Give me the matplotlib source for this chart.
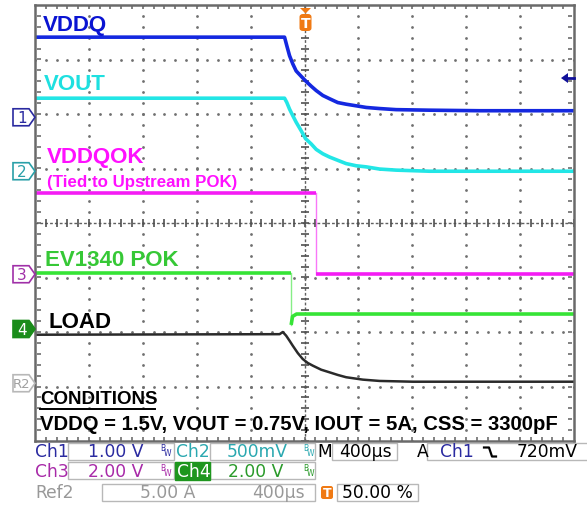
import numpy as np
import matplotlib.pyplot as plt
from matplotlib.patches import Polygon, Rectangle, FancyBboxPatch
from matplotlib.lines import Line2D

W, H = 587, 510

# time base: microseconds, 400 us/div, trigger at the centre
t_vddq = [-2000, -148, -131, -111, -87, -62, -24, 7, 50, 87, 136, 186, 247, 309, 384, 458, 557, 680, 928, 1299, 2000]
vddq = [1.47, 1.47, 1.31, 1.13, 0.98, 0.85, 0.75, 0.67, 0.57, 0.49, 0.40, 0.34, 0.27, 0.24, 0.21, 0.18, 0.16, 0.14, 0.13, 0.12, 0.12]

t_vout = [-2000, -148, -131, -111, -87, -62, -24, 7, 50, 87, 136, 186, 247, 309, 384, 458, 557, 680, 928, 1299, 2000]
vout = [0.67, 0.67, 0.63, 0.57, 0.51, 0.45, 0.37, 0.30, 0.25, 0.20, 0.16, 0.13, 0.10, 0.07, 0.05, 0.04, 0.02, 0.01, 0.0, 0.0, 0.0]

t_vddqok = [-2000, 85, 85, 2000]
vddqok = [2.98, 2.98, 0.0, 0.0]

t_pok = [-2000, -99, -99, -89, -59, 2000]
pok = [2.06, 2.06, 0.15, 0.46, 0.55, 0.55]

t_load = [-2000, -185, -161, -136, -111, -87, -50, -13, 24, 62, 124, 186, 247, 309, 433, 557, 804, 2000]
load = [4.45, 4.50, 4.70, 4.36, 3.90, 3.44, 2.77, 2.22, 1.86, 1.61, 1.24, 1.00, 0.76, 0.55, 0.33, 0.21, 0.14, 0.14]

trig_level = 0.72  # V on Ch1

# channel: (volts per div, ground offset in div)
ch1 = (1.0, 1.94)
ch2 = (0.5, 0.95)
ch3 = (2.0, -0.94)
ch4 = (2.0, -1.945)
ref2 = (5.0, -2.94)


def fx(x):
    return x / W


def fy(y):
    return 1 - y / H


fig = plt.figure(figsize=(W / 100, H / 100), dpi=100)
ax = fig.add_axes([fx(35), fy(442), (574 - 35) / W, (442 - 6) / H])
ax.set_xlim(-2000, 2000)
ax.set_ylim(-4, 4)
ax.set_xticks([])
ax.set_yticks([])
for s in ax.spines.values():
    s.set_color('#6a6a6a')
    s.set_linewidth(1.8)

# scope graticule
gx = np.arange(-2000, 2001, 80)
gy = np.arange(-4, 4.01, 0.2)
for yl in [-3, -2, -1, 1, 2, 3]:
    ax.scatter(gx, np.full(len(gx), yl), s=4, color='#707070', linewidths=0, zorder=1)
for xl in [-1600, -1200, -800, -400, 400, 800, 1200, 1600]:
    ax.scatter(np.full(len(gy), xl), gy, s=4, color='#707070', linewidths=0, zorder=1)
ax.plot([-2000, 2000], [0, 0], color='#606060', lw=1.0, ls=(0, (2, 1.5)), zorder=1)
ax.plot(gx, np.zeros(len(gx)), ls='none', marker='|', ms=6, mew=1.2, color='#505050', zorder=1)
ax.plot([0, 0], [-4, 4], color='#606060', lw=1.0, ls=(0, (2, 1.5)), zorder=1)
ax.plot(np.zeros(len(gy)), gy, ls='none', marker='_', ms=6, mew=1.2, color='#505050', zorder=1)
# minor tick combs just inside the frame
for yl in [-3.955, 3.955]:
    ax.plot(gx[1:-1], np.full(len(gx) - 2, yl), ls='none', marker='|', ms=3.5, mew=1.1,
            color='#606060', zorder=1, clip_on=False)
for xl in [-1970, 1970]:
    ax.plot(np.full(len(gy) - 2, xl), gy[1:-1], ls='none', marker='_', ms=3.5, mew=1.1,
            color='#606060', zorder=1, clip_on=False)


def trace(t, v, ch, color, lw, edge=None):
    scale, off = ch
    y = np.array(v) / scale + off
    if edge is None:
        ax.plot(t, y, color=color, lw=lw, solid_joinstyle='round')
    else:
        # thick settled parts, thin fast edge
        ax.plot(t[:edge + 1], y[:edge + 1], color=color, lw=lw, solid_capstyle='butt')
        ax.plot(t[edge:edge + 2], y[edge:edge + 2], color=color, lw=1.0, alpha=0.6)
        ax.plot(t[edge + 1:], y[edge + 1:], color=color, lw=lw, solid_capstyle='butt',
                solid_joinstyle='round')


trace(t_vddq, vddq, ch1, '#1428e0', 2.6)
trace(t_vout, vout, ch2, '#22e6e6', 2.6)
trace(t_vddqok, vddqok, ch3, '#f41cf4', 2.6, edge=1)
trace(t_pok, pok, ch4, '#36e436', 2.6, edge=1)
trace(t_load, load, ref2, '#2a2a2a', 1.8)

# trace labels
lab = dict(fontfamily='Liberation Sans', fontweight='bold', va='center', ha='left')
fig.text(fx(43), fy(25), 'VDDQ', color='#0a14d2', fontsize=16, **lab)
fig.text(fx(44), fy(85), 'VOUT', color='#1ee0e0', fontsize=16, **lab)
fig.text(fx(47), fy(158), 'VDDQOK', color='#ff10ff', fontsize=16, **lab)
fig.text(fx(47), fy(183), '(Tied to Upstream POK)', color='#ff10ff', fontsize=12.2, **lab)
fig.text(fx(45), fy(260.5), 'EV1340 POK', color='#36c836', fontsize=16, **lab)
fig.text(fx(48), fy(323), 'LOAD', color='black', fontsize=16, **lab)
fig.text(fx(40), fy(400), 'CONDITIONS', color='black', fontsize=13.5, **lab)
fig.add_artist(Line2D([fx(40), fx(155)], [fy(409.5), fy(409.5)], color='black', lw=1.4))
fig.text(fx(40), fy(425), 'VDDQ = 1.5V, VOUT = 0.75V, IOUT = 5A, CSS = 3300pF',
         color='black', fontsize=14.6, **lab)

# trigger marker on top
fig.add_artist(Polygon([(fx(300), fy(9)), (fx(311), fy(9)), (fx(305.5), fy(14.5))],
                       closed=True, transform=fig.transFigure, fc='#f07a14', ec='none'))
fig.add_artist(FancyBboxPatch((fx(299.5), fy(32)), fx(12), 17 / H,
                              boxstyle='round,pad=0,rounding_size=0.006',
                              transform=fig.transFigure, fc='#f07a14', ec='none'))
fig.text(fx(305.5), fy(24), 'T', color='white', fontsize=10, fontweight='bold',
         ha='center', va='center')

# trigger level arrow on the right edge
ty = ax.transData.transform((0, trig_level / ch1[0] + ch1[1]))[1]
yl = H - ty
fig.add_artist(Line2D([fx(565), fx(574)], [fy(yl), fy(yl)], color='#10109a', lw=2.0))
fig.add_artist(Polygon([(fx(561), fy(yl)), (fx(568), fy(yl - 5)), (fx(568), fy(yl + 5))],
                       closed=True, transform=fig.transFigure, fc='#10109a', ec='none'))


# channel ground markers on the left
def chan_marker(ch, label, edge, face, tcolor, size=11):
    yc = H - ax.transData.transform((0, ch[1]))[1]
    h = 8.5
    pts = [(13, yc - h), (29, yc - h), (35, yc), (29, yc + h), (13, yc + h)]
    fig.add_artist(Polygon([(fx(a), fy(b)) for a, b in pts], closed=True,
                           transform=fig.transFigure, fc=face, ec=edge, lw=1.2))
    fig.text(fx(22), fy(yc), label, color=tcolor, fontsize=size, ha='center', va='center')


chan_marker(ch1, '1', '#2a2aa0', 'white', '#2a2aa0')
chan_marker(ch2, '2', '#2aa0a8', 'white', '#2aa0a8')
chan_marker(ch3, '3', '#a030a8', 'white', '#a030a8')
chan_marker(ch4, '4', '#1a8c1a', '#1a8c1a', 'white')
chan_marker(ref2, 'R2', '#b8b8b8', 'white', '#a0a0a0', size=9.5)


# status panel
def box(x0, y0, x1, y1, fc='white', ec='#b8b8b8'):
    fig.add_artist(Rectangle((fx(x0), fy(y1)), fx(x1 - x0), (y1 - y0) / H,
                             transform=fig.transFigure, fc=fc, ec=ec, lw=1))


def st(x, y, s, color, size=12.3, **kw):
    fig.text(fx(x), fy(y), s, color=color, fontsize=size, fontfamily='DejaVu Sans',
             ha='left', va='center', **kw)


def bw(x, y, color):
    st(x, y - 3, 'B', color, size=5.5)
    st(x + 4, y + 2, 'W', color, size=5.5)


c1, c2, c3, c4, grey = '#2a2aa0', '#2aa8b0', '#a82aa8', '#2a9a2a', '#999999'

box(68, 444, 174, 461)
box(210, 444, 315, 461)
box(332, 444, 397, 461)
box(427, 444, 592, 461)
box(68, 463, 174, 480)
box(210, 463, 315, 480)
box(102, 485, 315, 502)
box(337, 485, 418, 502)
box(175, 463, 210, 481, fc='#1e961e', ec='#1e961e')
fig.add_artist(FancyBboxPatch((fx(321), fy(500)), fx(12), 13 / H,
                              boxstyle='round,pad=0,rounding_size=0.004',
                              transform=fig.transFigure, fc='#f07a14', ec='none'))

st(35, 452, 'Ch1', c1)
st(88, 452, '1.00 V', c1)
bw(160, 452, c1)
st(176, 452, 'Ch2', c2)
st(227, 452, '500mV', c2)
bw(303, 452, c2)
st(317, 452, 'M', 'black')
st(339, 452, '400µs', 'black')
st(417, 452, 'A', 'black')
st(440, 452, 'Ch1', c1)
fig.add_artist(Line2D([fx(484), fx(489), fx(492), fx(496)],
                      [fy(448.5), fy(448.5), fy(457.5), fy(457.5)], color='black', lw=1.6))
st(517, 452, '720mV', 'black')

st(35, 472, 'Ch3', c3)
st(88, 472, '2.00 V', c3)
bw(160, 472, c3)
st(177, 472, 'Ch4', 'white')
st(228, 472, '2.00 V', c4)
bw(303, 472, c4)

st(35, 493, 'Ref2', grey)
st(140, 493, '5.00 A', grey)
st(252, 493, '400µs', grey)
fig.text(fx(327), fy(493.5), 'T', color='white', fontsize=9, fontweight='bold',
         ha='center', va='center')
st(342, 493, '50.00 %', 'black')

fig.savefig('out.png', dpi=100)
